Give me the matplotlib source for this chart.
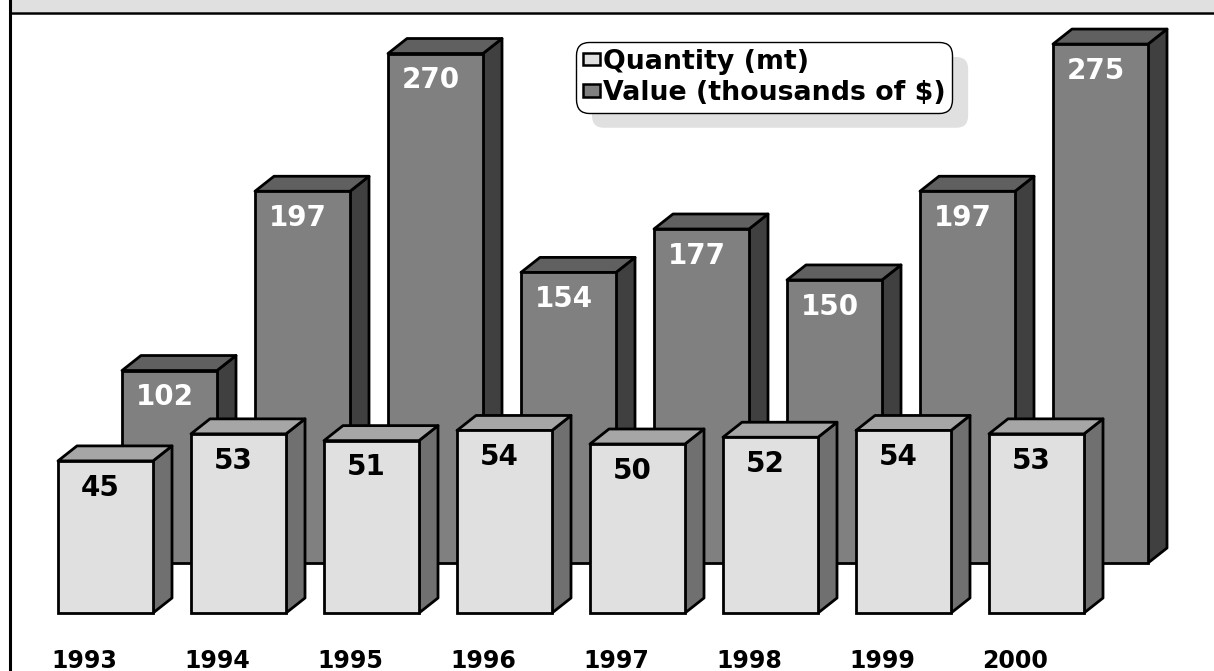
import matplotlib
matplotlib.use("Agg")
import matplotlib.pyplot as plt
import matplotlib.transforms as mtransforms
from matplotlib.patches import Polygon, FancyBboxPatch, Rectangle, Patch
from matplotlib.lines import Line2D

# data
years = ['1993', '1994', '1995', '1996', '1997', '1998', '1999', '2000']
quantity = [45, 53, 51, 54, 50, 52, 54, 53]
value = [102, 197, 270, 154, 177, 150, 197, 275]
labels = ['Quantity (mt)', 'Value (thousands of $)']

W, H = 1214, 671
fig = plt.figure(figsize=(W / 100, H / 100), dpi=100)

# layout (pixels)
step = 133.0          # distance between bars
bar_w = 95 / step     # front face width in category units
depth_x, depth_y = 19, 15
top_px = 14           # frame line from top
edge_lw = 2.0


def make_axes(x0_px, base_px, px_per_unit, z):
    # x0_px: centre of first bar from left, base_px: zero line from top
    ax = fig.add_axes([0, (H - base_px) / H, 1, (base_px - top_px) / H])
    ax.set_xlim(-x0_px / step, (W - x0_px) / step)
    ax.set_ylim(0, (base_px - top_px) / px_per_unit)
    ax.axis('off')
    ax.patch.set_alpha(0)
    ax.set_zorder(z)
    return ax


def draw_bars(ax, vals, front, top, side, px_per_unit, txt_color):
    dx = depth_x / step
    dy = depth_y / px_per_unit
    bars = ax.bar(range(len(vals)), vals, width=bar_w, color=front,
                  edgecolor='black', linewidth=edge_lw, zorder=3, clip_on=False)
    for b, v in zip(bars, vals):
        x0 = b.get_x()
        x1 = x0 + b.get_width()
        ax.add_patch(Polygon([(x1, 0), (x1 + dx, dy), (x1 + dx, v + dy), (x1, v)],
                             closed=True, fc=side, ec='black', lw=edge_lw,
                             zorder=2, clip_on=False, joinstyle='round'))
        ax.add_patch(Polygon([(x0, v), (x0 + dx, v + dy), (x1 + dx, v + dy), (x1, v)],
                             closed=True, fc=top, ec='black', lw=edge_lw,
                             zorder=2, clip_on=False, joinstyle='round'))
        ax.annotate(str(v), (x0 + b.get_width() / 2, v), xytext=(-3.5, -25),
                    textcoords='offset points', ha='center', va='baseline',
                    color=txt_color, fontsize=20, fontweight='bold',
                    annotation_clip=False, zorder=4)


q_scale = 3.38
v_scale = 1.887

ax_back = make_axes(105.5 + 64, 563, v_scale, 1)
ax_front = make_axes(105.5, 613, q_scale, 2)

draw_bars(ax_back, value, '#808080', '#606060', '#404040', v_scale, 'white')
draw_bars(ax_front, quantity, '#e0e0e0', '#a6a6a6', '#707070', q_scale, 'black')

for i, yr in enumerate(years):
    ax_front.annotate(yr, (i, 0), xytext=(-15.5, -39.5), textcoords='offset points',
                      ha='center', va='baseline', fontsize=17, fontweight='bold',
                      annotation_clip=False)

# frame: grey band on top, black rules
fig.patches.append(Rectangle((11 / W, 1 - 12 / H), 1, 12 / H, transform=fig.transFigure,
                             fc='#e0e0e0', ec='none', zorder=0))
fig.lines.append(Line2D([10 / W, 1], [1 - 13 / H, 1 - 13 / H], transform=fig.transFigure,
                        color='black', lw=1.8, zorder=6))
fig.lines.append(Line2D([9.5 / W, 9.5 / W], [0, 1], transform=fig.transFigure,
                        color='black', lw=2.2, zorder=6))

# legend
handles = [Patch(facecolor='#e0e0e0', edgecolor='black', lw=1.8),
           Patch(facecolor='#808080', edgecolor='black', lw=1.8)]
leg = fig.legend(handles, labels, loc='upper left',
                 bbox_to_anchor=(576 / W, 1 - 42 / H),
                 prop=dict(weight='bold', size=19.3), frameon=True, fancybox=True,
                 borderpad=0.25, handlelength=0.65, handleheight=0.35,
                 handletextpad=0.1, labelspacing=0.2, borderaxespad=0,
                 edgecolor='black', framealpha=1)
leg.get_frame().set_boxstyle('round', pad=0, rounding_size=0.5)
leg.get_frame().set_linewidth(1.0)
leg.set_zorder(7)

fig.canvas.draw()
bb = leg.get_window_extent()
shadow = FancyBboxPatch((bb.x0 + 16, bb.y0 - 15), bb.width, bb.height,
                        boxstyle='round,pad=0,rounding_size=12',
                        transform=mtransforms.IdentityTransform(),
                        fc='#e0e0e0', ec='none', zorder=5)
fig.patches.append(shadow)

fig.savefig('out.png', dpi=100)
